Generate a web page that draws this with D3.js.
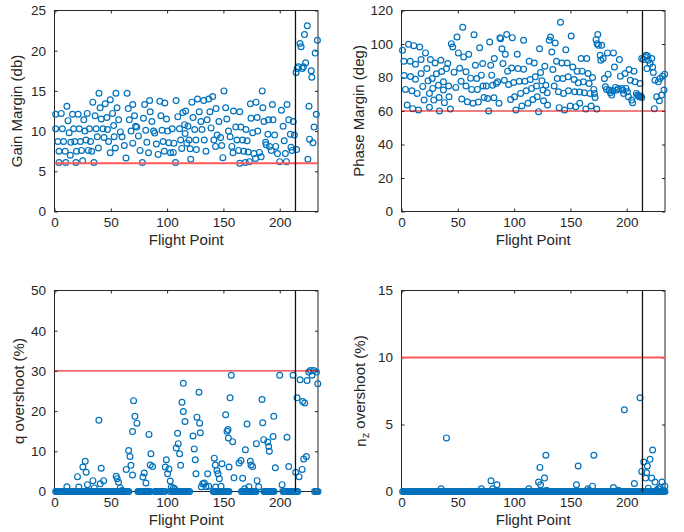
<!DOCTYPE html>
<html>
<head>
<meta charset="utf-8">
<script src="https://cdn.jsdelivr.net/npm/d3@7"></script>
<style>
  html, body { margin: 0; padding: 0; background: #fff; }
  svg { display: block; font-family: "Liberation Sans", Arial, Helvetica, sans-serif; }
</style>
</head>
<body>
<svg id="chart" width="684" height="532"></svg>
<script>
// ---- Flight-point sweep results ----
const flightTicks = [0, 50, 100, 150, 200];
const flightMax = 234;
const regimeSplit = 214;

// Gain margin (db)
const gmX = [
  1,1,3,4,4,6,7,8,9.5,10,
  11,12,13,14.5,14,16,17,18,19.5,19,
  21,22,23,24,25,26,27,28,30,29,
  31,32,33,34,35,36,37,38,39,39.5,
  40.5,41.5,43,44,45,46.5,47,48,49.5,49.5,
  51.5,52.5,53,54,54.5,55.5,57,58.5,60,62,
  63.5,64.5,65.5,66.5,68,69.5,69.5,71,72,73,
  74.5,76,78,79,80,81,82,83.5,84.5,85,
  86.5,88,89,90.5,92,93.5,94.5,95.5,96.5,97.5,
  98,99.5,100.5,101.5,103,104.5,105.5,106,107.5,108,
  109.5,111,112,113,114,115.5,116,116.5,117.5,118.5,
  119.5,120.5,121,122,123,124.5,125.5,126,127,128.5,
  130,131,132.5,133,134.5,135.5,137,138,139,140.5,
  141.5,143,143.5,144.5,146,147.5,148.5,149.5,150.5,152,
  153,154.5,156,157.5,158.5,159,161,162,163.5,164.5,
  164.5,165.5,167,168,169.5,170,171,172,173,174,
  174.5,176,177,178.5,179,180,180.5,182,183.5,184.5,
  185,186,187.5,188,189.5,190,191,192.5,193.5,194,
  195.5,196.5,198,200,201.5,203,204,205,206,206.5,
  208,209.5,210,211,212,213,215,214.5,215.5,216.5,
  218,219,220,221,222,223,224.5,225,226,226.5,
  228,228.5,229.5,230.5,231.5,232.5,233.5
];
const gainMargin = [
  12.1,10.3,8.7,7.5,6.1,12.2,10.3,8.7,7.5,6.1,
  13.1,11.3,9.8,8.6,7.0,12.1,10.3,8.7,7.5,6.1,
  12.1,10.3,8.7,7.6,6.3,11.4,10.0,8.9,7.6,12.2,
  10.3,8.7,7.5,13.6,6.1,11.9,10.3,9.3,7.9,14.7,
  12.9,11.5,10.3,9.2,13.4,11.7,10.2,8.7,7.3,13.9,
  12.2,10.7,9.3,7.9,14.7,12.9,11.4,9.9,9.3,8.2,
  6.65,14.7,12.8,11.4,10.0,8.5,13.3,11.9,10.6,10.5,
  9.4,7.6,6.1,11.6,13.3,10.1,8.6,7.3,13.8,12.4,
  11.2,10.0,9.75,8.4,7.1,13.7,11.9,10.1,8.7,7.5,
  13.5,11.5,10.0,8.55,7.3,10.3,7.35,8.5,6.1,13.8,
  11.8,10.3,8.9,7.85,12.3,10.8,9.7,12.5,8.5,10.6,
  8.9,7.8,6.5,13.6,11.7,10.2,8.9,7.7,14.0,12.4,
  11.2,10.2,13.8,8.9,7.5,11.4,14.0,12.4,10.4,14.3,
  8.9,8.1,12.8,9.5,11.2,9.2,8.2,6.7,15.0,12.9,
  11.5,10.0,9.3,8.1,7.3,12.5,10.5,8.9,7.6,6.0,
  12.4,10.5,8.9,7.5,6.1,10.2,8.8,7.4,6.2,13.4,
  11.6,9.8,7.2,6.6,13.6,11.7,10.0,7.35,6.8,15.0,
  12.9,11.2,8.6,8.3,9.6,11.4,8.1,7.6,13.3,11.4,
  9.5,8.1,7.2,6.2,12.6,10.6,8.8,7.2,6.2,13.3,
  11.4,9.6,8.0,7.6,11.2,9.5,7.7,17.3,17.8,18.0,
  20.9,20.5,17.8,18.0,22.0,18.5,23.1,6.5,13.1,9.0,
  17.5,16.7,8.55,10.5,19.7,12.1,21.3
];

// Phase margin (deg)
const pmX = [
  0.9,2.1,2.4,3.5,5.0,6.2,7.7,8.0,9.2,10.0,
  10.9,12.4,12.4,13.9,15.1,16.2,17.4,17.4,18.9,20.1,
  21.3,22.5,23.6,24.8,24.8,25.7,27.2,27.8,28.7,29.8,
  31.0,32.8,33.4,33.7,34.9,35.7,37.2,37.2,38.1,39.9,
  41.1,41.9,42.2,43.4,44.3,45.5,46.7,48.2,49.3,50.5,
  51.7,52.9,53.5,54.4,55.2,57.3,57.3,58.5,59.7,61.4,
  62.3,63.5,64.4,65.6,66.8,67.4,68.2,69.4,70.9,72.1,
  72.4,73.3,75.3,76.5,77.4,78.3,79.2,80.1,80.9,82.1,
  82.4,84.2,85.4,86.6,87.4,88.0,89.2,90.1,91.3,92.2,
  93.4,94.2,95.1,96.9,97.8,98.4,99.6,100.4,101.6,102.8,
  103.4,104.6,105.8,106.9,108.4,108.4,109.6,110.8,112.3,113.4,
  114.3,115.5,116.7,117.9,118.8,119.9,120.5,121.7,122.6,123.5,
  124.7,125.6,126.1,127.3,128.2,129.4,129.7,131.2,132.3,133.5,
  134.4,135.6,136.5,137.7,138.3,139.4,140.0,141.2,142.4,143.3,
  143.9,144.8,145.9,147.1,148.0,148.3,149.8,150.7,152.1,153.3,
  153.9,154.8,156.0,156.9,158.1,158.3,159.5,160.4,161.6,162.5,
  163.7,164.5,165.7,166.6,167.5,168.4,169.6,170.8,171.3,171.9,
  173.4,172.8,173.7,174.3,174.9,176.4,177.0,177.8,179.0,180.2,
  181.1,182.0,182.9,183.5,184.3,185.5,186.7,187.6,188.2,189.1,
  190.0,191.1,192.6,193.5,194.4,195.6,196.5,197.3,198.5,199.4,
  200.6,201.5,202.1,203.2,204.4,205.3,206.5,207.4,208.6,209.7,
  210.3,211.2,211.8,212.4,213.3,213.3,214.8,216.2,217.1,218.0,
  218.6,219.2,220.7,222.2,223.0,223.6,224.5,225.1,226.6,228.1,
  229.0,229.5,231.0,231.9,233.1,233.7
];
const phaseMargin = [
  96.2,89.7,81.2,72.9,63.6,99.8,89.7,80.6,72.1,61.4,
  99.0,87.9,79.0,70.5,60.6,98.2,90.7,82.4,74.7,66.5,
  94.7,85.3,78.0,70.5,62.2,90.7,79.4,73.5,66.5,88.7,
  82.2,75.4,68.1,60.0,90.3,83.6,77.4,72.5,65.0,85.3,
  88.3,74.9,68.5,61.2,100.2,98.2,83.2,74.1,104.2,94.7,
  85.5,77.8,67.1,110.0,92.3,83.4,74.9,65.5,93.9,79.6,
  72.9,64.6,105.5,87.3,79.4,72.9,65.3,97.8,81.4,88.3,
  74.9,68.1,74.9,67.5,60.0,101.2,87.3,81.4,75.4,67.9,
  91.3,76.4,77.4,64.6,103.8,103.2,97.2,88.3,78.4,93.9,
  105.7,83.8,75.8,66.9,85.7,103.8,77.0,68.5,60.6,93.9,
  85.3,77.8,70.5,63.0,102.2,85.0,77.8,72.1,64.6,89.7,
  78.8,73.5,66.9,88.7,80.4,74.9,68.5,59.6,97.2,83.0,
  78.0,72.5,66.1,86.7,75.4,70.9,63.6,102.2,104.2,95.2,
  84.8,74.9,100.6,89.7,79.4,71.5,62.0,113.0,88.7,79.4,
  70.5,60.6,96.6,88.7,80.4,72.1,63.0,104.8,86.3,78.8,
  71.5,62.6,83.8,76.8,71.3,64.6,91.3,83.8,77.4,70.9,
  61.2,91.3,82.4,76.4,70.5,63.0,80.0,72.9,70.5,68.1,
  61.2,102.6,100.2,105.7,99.2,93.3,90.3,99.2,91.3,79.4,
  74.5,72.9,94.7,82.0,72.5,70.9,69.5,72.1,94.7,86.3,
  74.1,72.5,73.5,90.7,80.8,73.5,72.5,70.5,82.4,73.5,
  71.5,68.5,84.8,78.4,66.5,65.0,83.8,77.4,70.5,69.5,
  68.9,68.5,76.4,68.9,68.1,91.3,90.7,92.3,93.3,85.3,
  92.9,90.3,88.3,91.3,86.3,83.0,61.4,78.4,68.5,77.4,
  66.1,79.4,69.5,80.8,72.5,82.0
];

// Pitch-rate overshoot (%), non-zero responses
const qX = [
  11.0,20.4,21.6,25.2,27.3,28.1,29.3,34.1,35.3,39.4,
  40.6,41.5,43.6,54.8,55.7,56.9,58.4,59.9,63.7,65.8,
  67.0,67.9,69.3,69.3,70.2,71.4,73.2,78.5,79.7,81.2,
  83.9,85.0,85.6,87.1,98.4,99.3,100.4,101.6,102.8,103.7,
  105.5,106.7,108.1,109.3,109.9,111.1,112.0,113.2,114.4,114.4,
  115.9,123.0,124.1,125.0,125.6,126.5,128.3,128.9,129.5,130.4,
  131.6,133.0,134.5,136.0,136.9,141.9,142.8,143.1,144.3,145.2,
  146.4,147.9,148.7,152.0,153.2,154.1,154.4,155.0,155.9,157.0,
  158.2,159.4,163.9,165.6,167.1,168.9,169.5,171.0,172.7,173.9,
  174.5,176.0,179.3,179.9,181.3,184.3,184.9,185.8,189.3,190.2,
  190.8,194.1,194.7,196.1,200.0,202.1,206.5,208.0,211.9,214.2,
  215.4,217.2,218.1,219.9,220.4,221.3,222.2,223.7,224.3,225.8,
  227.3,228.7,230.2,232.6,233.8
];
const qOvershoot = [
  1.2,3.7,1.1,6.1,7.5,4.8,1.7,2.7,0.9,17.7,
  1.9,5.8,2.7,3.8,3.2,2.3,0.9,0.25,5.5,10.2,
  8.7,6.5,14.9,4.1,22.6,18.7,17.0,3.6,4.6,2.1,
  14.2,6.6,9.4,6.2,6.1,7.9,4.4,5.6,2.6,1.1,
  0.9,0.7,10.8,14.5,11.9,9.4,6.5,22.2,19.9,26.9,
  17.4,13.8,10.6,7.9,4.4,18.5,24.7,17.0,14.6,1.2,
  1.9,2.1,1.2,4.4,1.3,8.3,6.6,1.1,5.2,4.4,
  3.2,1.3,6.9,19.1,15.0,15.4,13.3,6.1,23.3,28.9,
  12.4,3.4,7.1,7.7,3.3,0.7,10.4,16.8,1.2,7.5,
  6.6,6.2,11.9,2.7,1.2,22.9,17.1,12.9,12.3,11.2,
  10.0,13.7,18.7,5.9,28.9,1.7,13.5,6.2,28.9,4.8,
  23.3,3.7,27.8,5.5,22.4,8.1,22.0,8.7,27.6,29.7,
  30.1,28.9,30.1,29.7,26.8
];
// Flight points with zero pitch-rate overshoot
const qZeroX = [
  1,2,3,4,5,6,7,8,9,10,11,12,13,14,15,16,17,18,19,20,
  21,22,23,24,25,26,27,28,29,30,31,32,33,34,35,36,37,38,39,40,
  41,42,43,44,45,46,47,48,49,50,51,52,53,54,55,56,57,58,59,60,
  61,62,63,64,65,66,
  74,75,76,77,78,79,80,81,82,83,84,85,
  89,90,91,92,93,94,95,96,97,98,
  103,104,105,106,107,108,109,110,111,112,113,114,115,116,117,118,119,120,
  141,142,143,144,145,146,147,148,149,150,151,152,153,154,155,
  166,167,168,169,170,171,172,173,174,175,176,177,178,179,
  186,187,188,189,190,191,192,193,194,195,
  203,204,205,206,207,208,209,210,211,212,213,214,215,216,
  231,232,233,234
];

// Normal-load-factor overshoot (%), non-zero responses
const nzX = [
  35.2,39.9,70.9,79.5,80.9,84.8,113.1,121.7,122.9,123.5,
  127.0,128.2,128.8,155.4,156.9,165.4,166.6,169.6,170.8,188.2,
  192.6,197.9,206.8,211.8,213.3,215.1,216.8,217.7,218.3,219.2,
  220.7,222.2,223.0,225.1,226.6,228.1,229.5,231.3,232.5,233.8
];
const nzOvershoot = [
  0.2,4.0,0.2,0.8,0.2,0.5,0.2,0.7,1.8,0.5,
  1.0,2.7,0.1,0.5,1.9,0.2,0.1,0.4,2.7,0.3,
  0.1,6.1,0.6,7.0,1.5,2.2,1.0,1.4,1.9,0.25,
  2.4,1.0,3.1,0.7,0.1,0.2,0.3,0.7,0.1,0.4
];
// Flight points with zero normal-load-factor overshoot
const nzZeroX = [
  1,2,3,4,5,6,7,8,9,10,11,12,13,14,15,16,17,18,19,20,
  21,22,23,24,25,26,27,28,29,30,31,32,33,34,35,36,37,38,39,40,
  41,42,43,44,45,46,47,48,49,50,51,52,53,54,55,56,57,58,59,60,
  61,62,63,64,65,66,67,68,69,70,71,72,73,74,75,76,77,78,79,80,
  81,82,83,84,85,86,87,88,89,90,91,92,93,94,95,96,97,98,99,100,
  101,102,103,104,105,106,107,108,109,110,111,112,113,114,115,116,117,118,119,120,
  121,122,123,124,125,126,127,128,129,130,131,132,133,134,135,136,137,138,139,140,
  141,142,143,144,145,146,147,148,149,150,151,152,153,154,155,156,157,158,159,160,
  161,162,163,164,165,166,167,168,169,170,171,172,173,174,175,176,177,178,179,180,
  181,182,183,184,185,186,187,188,189,190,191,192,193,194,195,196,197,198,199,200,
  201,202,203,204,205,206,207,208,209,210,211,212,213,214,215,216,217,218,219,220,
  221,222,223,224,225,226,227,228,229,230,231,232,233,234
];

// Requirement limits
const gmLimit = 6, pmLimit = 60, qLimit = 30, nzLimit = 10;

// ---- Layout / style ----
const INK = "#262626";
const MARK = "#0072BD";
const PW = 263.5, PH = 201;
const TICK_FONT = 13.5, LABEL_FONT = 15;

function pairs(xs, ys) {
  const n = Math.min(xs.length, ys.length);
  const out = [];
  for (let i = 0; i < n; i++) out.push([xs[i], ys[i]]);
  return out;
}

const panels = [
  { left: 54.5, top: 10.5, yMax: 25, yTicks: [0,5,10,15,20,25],
    pts: pairs(gmX, gainMargin), limit: gmLimit,
    limitStroke: "#ff5a5a", limitWidth: 1.8,
    label: "Gain Margin (db)", labelX: 22 },
  { left: 401.5, top: 10.5, yMax: 120, yTicks: [0,20,40,60,80,100,120],
    pts: pairs(pmX, phaseMargin), limit: pmLimit,
    limitStroke: "#e00000", limitWidth: 1,
    label: "Phase Margin (deg)", labelX: 363.5 },
  { left: 54.5, top: 290.5, yMax: 50, yTicks: [0,10,20,30,40,50],
    pts: pairs(qX, qOvershoot).concat(qZeroX.map(d => [d, 0])), limit: qLimit,
    limitStroke: "#e00000", limitWidth: 1,
    label: "q overshoot (%)", labelX: 24 },
  { left: 401.5, top: 290.5, yMax: 15, yTicks: [0,5,10,15],
    pts: nzZeroX.map(d => [d, 0]).concat(pairs(nzX, nzOvershoot)), limit: nzLimit,
    limitStroke: "#ff5a5a", limitWidth: 1.8,
    label: null, labelX: 366 }
];

const svg = d3.select("#chart");

panels.forEach((p, i) => {
  const g = svg.append("g");
  const x = d3.scaleLinear().domain([0, flightMax]).range([p.left, p.left + PW]);
  const y = d3.scaleLinear().domain([0, p.yMax]).range([p.top + PH, p.top]);

  // axes with inward ticks on all four sides
  g.append("g").attr("transform", `translate(0,${p.top + PH})`)
    .call(d3.axisBottom(x).tickValues(flightTicks).tickSize(-3).tickPadding(5.5).tickFormat(d3.format("d")));
  g.append("g").attr("transform", `translate(0,${p.top})`)
    .call(d3.axisTop(x).tickValues(flightTicks).tickSize(-3).tickFormat(""));
  g.append("g").attr("transform", `translate(${p.left},0)`)
    .call(d3.axisLeft(y).tickValues(p.yTicks).tickSize(-3).tickPadding(8.5).tickFormat(d3.format("d")));
  g.append("g").attr("transform", `translate(${p.left + PW},0)`)
    .call(d3.axisRight(y).tickValues(p.yTicks).tickSize(-3).tickFormat(""));

  g.selectAll(".domain").remove();
  g.selectAll(".tick line").attr("stroke", INK).attr("stroke-width", 1);
  g.selectAll(".tick text").attr("fill", INK).attr("font-size", TICK_FONT)
    .attr("font-family", '"Liberation Sans", Arial, Helvetica, sans-serif');

  // axes box
  g.append("rect")
    .attr("x", p.left).attr("y", p.top).attr("width", PW).attr("height", PH)
    .attr("fill", "none").attr("stroke", INK).attr("stroke-width", 1);

  // scatter markers
  g.append("g").selectAll("circle").data(p.pts).join("circle")
    .attr("cx", d => x(d[0])).attr("cy", d => y(d[1])).attr("r", 2.9)
    .attr("fill", "none").attr("stroke", MARK).attr("stroke-width", 1.2);

  // requirement limit
  g.append("line")
    .attr("x1", x(0)).attr("x2", x(flightMax)).attr("y1", y(p.limit)).attr("y2", y(p.limit))
    .attr("stroke", p.limitStroke).attr("stroke-width", p.limitWidth);

  // regime split
  g.append("line")
    .attr("x1", x(regimeSplit)).attr("x2", x(regimeSplit)).attr("y1", y(0)).attr("y2", y(p.yMax))
    .attr("stroke", "#111").attr("stroke-width", 1.3);

  // axis labels
  g.append("text")
    .attr("x", p.left + PW / 2).attr("y", p.top + PH + 33.5)
    .attr("text-anchor", "middle").attr("fill", INK).attr("font-size", LABEL_FONT)
    .text("Flight Point");

  const yl = g.append("text")
    .attr("transform", `translate(${p.labelX},${p.top + PH / 2}) rotate(-90)`)
    .attr("text-anchor", "middle").attr("fill", INK).attr("font-size", LABEL_FONT);
  if (p.label) {
    yl.text(p.label);
  } else {
    yl.append("tspan").text("n");
    yl.append("tspan").attr("dy", "0.3em").attr("font-size", 11).text("z");
    yl.append("tspan").attr("dy", "-0.3em").text(" overshoot (%)");
  }
});
</script>
</body>
</html>
